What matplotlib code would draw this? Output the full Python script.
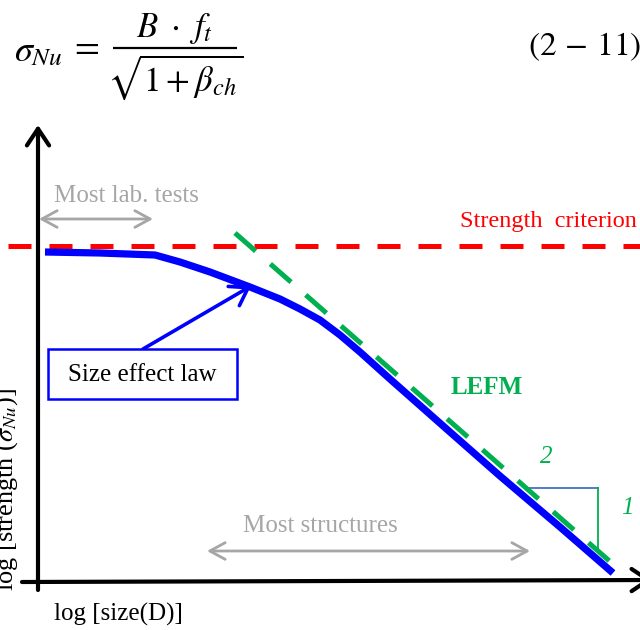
import matplotlib.pyplot as plt
import numpy as np

plt.rcParams['font.family'] = ['Liberation Serif', 'DejaVu Serif']
plt.rcParams['mathtext.fontset'] = 'stix'

# diagram coordinates (pixel-like units, y downwards)
size_law_x = [45, 100, 155, 180, 210, 250, 280, 300, 320, 340, 360, 390, 450, 500, 560, 613]
size_law_y = [252, 253, 255, 262, 272, 287, 299, 309, 320, 335, 352, 379, 432, 476, 527, 573]

lefm_x = [235, 622]
lefm_y = [233, 572]

strength_x = [8, 640]
strength_y = [246, 246]

slope_h_x = [525, 598]
slope_h_y = [488, 488]
slope_v_x = [598, 598]
slope_v_y = [488, 552]

lab_range = [39, 153]
struct_range = [207, 530]

GRAY = '#a6a6a6'
GREEN = '#00b050'

fig = plt.figure(figsize=(6.4, 6.3), dpi=100)
ax = fig.add_axes([0, 0, 1, 1])
ax.set_xlim(0, 640)
ax.set_ylim(630, 0)
ax.axis('off')

# equation at top (built from pieces to control spacing)
ax.text(14, 53, r'$\sigma_{Nu}$', fontsize=26, va='center', ha='left')
ax.text(84, 47, r'$=$', fontsize=26, va='center', ha='center')
ax.plot([113, 237], [48, 48], color='black', lw=1.6, solid_capstyle='butt')
ax.text(175, 29, r'$B\ \cdot\ f_t$', fontsize=25, va='center', ha='center')
ax.text(175, 77, r'$\sqrt{1+\beta_{ch}}$', fontsize=25, va='center', ha='center')
ax.text(641, 47, r'$(2\,-\,11)$', fontsize=24, va='center', ha='right')

# axes with arrows
ax.annotate('', xy=(38, 125), xytext=(38, 590), annotation_clip=False,
            arrowprops=dict(arrowstyle='->,head_length=0.6,head_width=0.4',
                            color='black', lw=3, mutation_scale=20,
                            shrinkA=0, shrinkB=0))
ax.annotate('', xy=(652, 580), xytext=(22, 582), annotation_clip=False,
            arrowprops=dict(arrowstyle='->,head_length=0.6,head_width=0.4',
                            color='black', lw=3, mutation_scale=20,
                            shrinkA=0, shrinkB=0))

# strength criterion
ax.plot(strength_x, strength_y, color='red', lw=3.6, solid_capstyle='butt',
        linestyle=(0, (4.6, 3.6)))
ax.text(637, 222, 'Strength  criterion', color='red', fontsize=17.5,
        ha='right', va='center')

# LEFM asymptote
ax.plot(lefm_x, lefm_y, color=GREEN, lw=3.6, linestyle=(0, (5.5, 3.9)),
        zorder=4)
ax.text(487, 388, 'LEFM', color=GREEN, fontsize=18, fontweight='bold',
        ha='center', va='center')

# size effect law curve
ax.plot(size_law_x, size_law_y, color='blue', lw=5.2, solid_capstyle='butt',
        solid_joinstyle='round', zorder=3)

# slope triangle
ax.plot(slope_h_x, slope_h_y, color='#4472c4', lw=1.3)
ax.plot(slope_v_x, slope_v_y, color=GREEN, lw=1.3)
ax.text(546, 457, '2', color=GREEN, fontsize=18, style='italic',
        ha='center', va='center')
ax.text(627, 508, '1', color=GREEN, fontsize=18, style='italic',
        ha='center', va='center')

# ranges
ax.annotate('', xy=(lab_range[0], 219), xytext=(lab_range[1], 219),
            arrowprops=dict(arrowstyle='<->,head_length=0.55,head_width=0.3',
                            color=GRAY, lw=2, mutation_scale=20,
                            shrinkA=0, shrinkB=0))
ax.text(126, 196, 'Most lab. tests', color=GRAY, fontsize=18,
        ha='center', va='center')
ax.annotate('', xy=(struct_range[0], 551), xytext=(struct_range[1], 551),
            arrowprops=dict(arrowstyle='<->,head_length=0.55,head_width=0.3',
                            color=GRAY, lw=2, mutation_scale=20,
                            shrinkA=0, shrinkB=0))
ax.text(320, 526, 'Most structures', color=GRAY, fontsize=18,
        ha='center', va='center')

# size effect law label box and pointer
ax.annotate('', xy=(251, 286), xytext=(143, 349),
            arrowprops=dict(arrowstyle='->,head_length=0.6,head_width=0.4',
                            color='blue', lw=2.6, mutation_scale=20,
                            shrinkA=0, shrinkB=0))
ax.add_patch(plt.Rectangle((48, 349), 189, 50, fill=True, facecolor='white',
                           edgecolor='blue', lw=1.8, zorder=5))
ax.text(142, 375, 'Size effect law', color='black', fontsize=18,
        ha='center', va='center', zorder=6)

# axis labels
ax.text(118, 614, 'log [size(D)]', fontsize=18, ha='center', va='center')
ax.text(7, 490, r'log [strength ($\sigma_{Nu}$)]', fontsize=19,
        rotation=90, ha='center', va='center')

fig.savefig('out.png', dpi=100)
